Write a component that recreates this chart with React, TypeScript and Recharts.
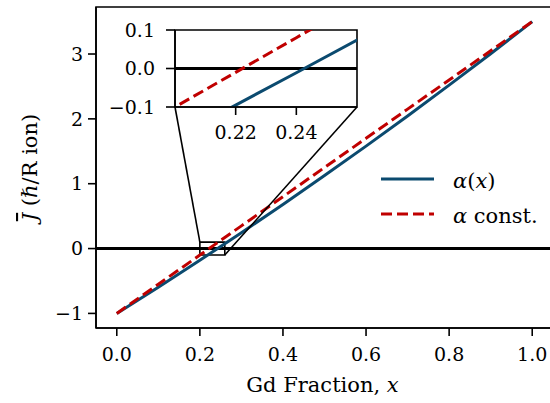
import { LineChart, Line, XAxis, YAxis, ReferenceLine, ReferenceArea } from 'recharts'

// Gd fraction samples (extra points near the zero crossing for the inset)
const fractions = [0, 0.1, 0.2, 0.22, 0.24, 0.26, 0.3, 0.4, 0.5, 0.6, 0.7, 0.8, 0.9, 1.0]
const alphaX = [-1, -0.595, -0.18, -0.095, -0.011, 0.074, 0.245, 0.68, 1.125, 1.58, 2.045, 2.52, 3.005, 3.5]
const alphaConst = [-1, -0.55, -0.1, -0.01, 0.08, 0.17, 0.35, 0.8, 1.25, 1.7, 2.15, 2.6, 3.05, 3.5]

const xTicks = [0, 0.2, 0.4, 0.6, 0.8, 1.0]
const yTicks = [-1, 0, 1, 2, 3]
const insetXTicks = [0.22, 0.24]
const insetYTicks = [-0.1, 0, 0.1]

const data = fractions.map((x, i) => ({ x, ax: alphaX[i], ac: alphaConst[i] }))

const BLUE = '#0b4a6f'
const RED = '#c00000'
const FONT = '"DejaVu Serif", "Liberation Serif", serif'

// main plot area
const W = 553
const H = 403
const PL = 96
const PT = 7
const PW = 457
const PH = 321
const XD: [number, number] = [-0.05, 1.05]
const YD: [number, number] = [-1.225, 3.725]
const sx = (v: number) => PL + ((v - XD[0]) / (XD[1] - XD[0])) * PW
const sy = (v: number) => PT + ((YD[1] - v) / (YD[1] - YD[0])) * PH

// inset plot area
const IL = 175
const IT = 30
const IW = 182
const IH = 77
const IXD: [number, number] = [0.2, 0.26]
const IYD: [number, number] = [-0.1, 0.1]

const minus = (s: string) => s.replace('-', '\u2212')
const tickStyle = { fill: '#000', fontSize: 19, fontFamily: FONT }
const tickLine = { stroke: '#000', strokeWidth: 1.6 }

export default function App() {
  return (
    <div style={{ position: 'absolute', left: 0, top: 0, width: 550, height: 403, overflow: 'hidden', background: '#fff' }}>
      <LineChart width={W} height={H} data={data} margin={{ top: PT, right: 0, left: 0, bottom: 0 }}>
        <XAxis
          dataKey="x"
          type="number"
          domain={XD}
          ticks={xTicks}
          allowDataOverflow
          height={H - PT - PH}
          tickFormatter={(v: number) => v.toFixed(1)}
          tick={tickStyle}
          tickSize={8}
          tickMargin={12}
          axisLine={tickLine}
          tickLine={tickLine}
          label={{
            content: () => (
              <text x={PL + PW / 2 - 2} y={392} textAnchor="middle" fontSize={21} fontFamily={FONT}>
                Gd Fraction, <tspan fontStyle="italic">x</tspan>
              </text>
            ),
          }}
        />
        <YAxis
          type="number"
          domain={YD}
          ticks={yTicks}
          allowDataOverflow
          width={PL}
          tickFormatter={(v: number) => minus(String(v))}
          tick={tickStyle}
          tickSize={8}
          tickMargin={5}
          axisLine={tickLine}
          tickLine={tickLine}
          label={{
            content: () => (
              <text
                x={37}
                y={PT + PH / 2}
                textAnchor="middle"
                fontSize={21}
                fontFamily={FONT}
                transform={`rotate(-90 37 ${PT + PH / 2})`}
              >
                <tspan fontStyle="italic" style={{ textDecoration: 'overline' }}>J</tspan> ({'\u210F'}/R ion)
              </text>
            ),
          }}
        />
        <ReferenceArea x1={XD[0]} x2={XD[1]} y1={YD[0]} y2={YD[1]} fill="none" stroke="#000" strokeWidth={1.6} />
        <ReferenceLine y={0} stroke="#000" strokeWidth={3} />
        <Line dataKey="ax" stroke={BLUE} strokeWidth={3} dot={false} isAnimationActive={false} />
        <Line dataKey="ac" stroke={RED} strokeWidth={3} strokeDasharray="11 5" dot={false} isAnimationActive={false} />
        <ReferenceArea x1={IXD[0]} x2={IXD[1]} y1={IYD[0]} y2={IYD[1]} fill="none" stroke="#000" strokeWidth={1.6} />
      </LineChart>

      <svg width={550} height={403} style={{ position: 'absolute', left: 0, top: 0, pointerEvents: 'none' }}>
        <line x1={IL} y1={IT + IH} x2={sx(IXD[0])} y2={sy(IYD[1])} stroke="#000" strokeWidth={1.6} />
        <line x1={IL + IW} y1={IT + IH} x2={sx(IXD[1])} y2={sy(IYD[0])} stroke="#000" strokeWidth={1.6} />
        <g fontSize={21} fontFamily={FONT}>
          <line x1={381} x2={434} y1={179} y2={179} stroke={BLUE} strokeWidth={3} />
          <text x={453} y={188}>
            <tspan fontStyle="italic">α</tspan>(<tspan fontStyle="italic">x</tspan>)
          </text>
          <line x1={381} x2={434} y1={214} y2={214} stroke={RED} strokeWidth={3} strokeDasharray="11 5" />
          <text x={453} y={223}>
            <tspan fontStyle="italic">α</tspan> const.
          </text>
        </g>
      </svg>

      <div style={{ position: 'absolute', left: 0, top: 0 }}>
        <LineChart
          width={IL + IW + 2}
          height={IT + IH + 45}
          data={data}
          margin={{ top: IT, right: 2, left: 0, bottom: 0 }}
        >
          <ReferenceArea x1={IXD[0]} x2={IXD[1]} y1={IYD[0]} y2={IYD[1]} fill="#fff" fillOpacity={1} stroke="#000" strokeWidth={1.6} />
          <XAxis
            dataKey="x"
            type="number"
            domain={IXD}
            ticks={insetXTicks}
            allowDataOverflow
            height={45}
            tickFormatter={(v: number) => v.toFixed(2)}
            tick={tickStyle}
            tickSize={8}
            tickMargin={11}
            axisLine={tickLine}
            tickLine={tickLine}
          />
          <YAxis
            type="number"
            domain={IYD}
            ticks={insetYTicks}
            allowDataOverflow
            width={IL}
            tickFormatter={(v: number) => minus(v.toFixed(1))}
            tick={tickStyle}
            tickSize={9}
            tickMargin={11}
            axisLine={tickLine}
            tickLine={tickLine}
          />
          <ReferenceLine y={0} stroke="#000" strokeWidth={3} />
          <Line dataKey="ax" stroke={BLUE} strokeWidth={3} dot={false} isAnimationActive={false} />
          <Line dataKey="ac" stroke={RED} strokeWidth={3} strokeDasharray="11 5" dot={false} isAnimationActive={false} />
        </LineChart>
      </div>
    </div>
  )
}
